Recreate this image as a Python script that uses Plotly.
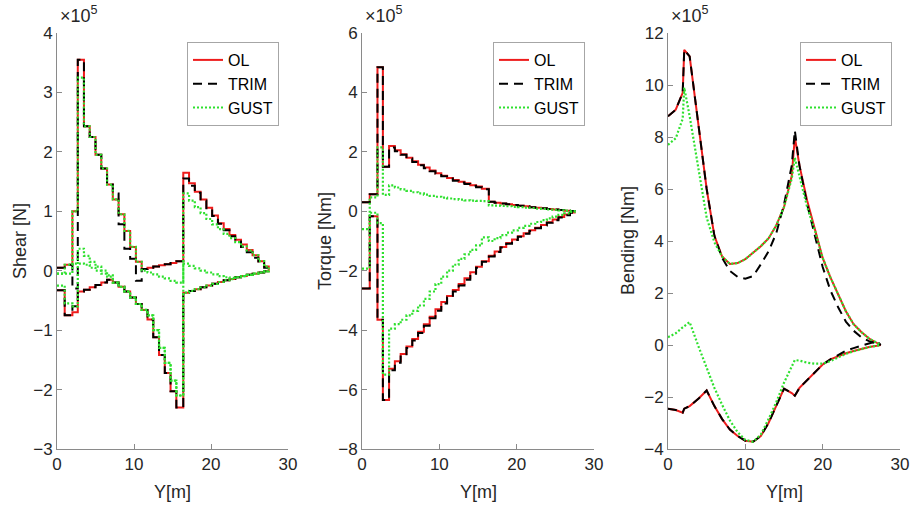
import plotly.graph_objects as go

# ---------------- data (loads in units of 1e5) ----------------
# spanwise stations (left edge of each strip, last = tip) for shear/torque
STATION_Y = [0, 1.0, 2.0, 2.7, 3.5, 4.25, 5.0, 5.75, 6.5, 7.25, 8.0, 8.75, 9.5, 10.25,
             11.0, 11.75, 12.5, 13.25, 14.0, 14.75, 15.5, 16.4, 17.15, 17.9, 18.65,
             19.4, 20.15, 20.9, 21.65, 22.4, 23.15, 23.9, 24.65, 25.4, 26.15, 26.9, 27.5]

SHEAR_OL_MAX = [0.05, 0.1, 1.0, 3.55, 2.43, 2.25, 1.95, 1.72, 1.45, 1.2, 0.95, 0.67, 0.4, 0.15,
                0.03, 0.05, 0.07, 0.09, 0.11, 0.13, 0.16, 1.65, 1.47, 1.33, 1.2, 1.06, 0.93,
                0.8, 0.7, 0.6, 0.52, 0.44, 0.35, 0.26, 0.16, 0.07, 0.0]
SHEAR_OL_MIN = [-0.33, -0.75, -0.7, -0.35, -0.32, -0.28, -0.24, -0.2, -0.15, -0.2, -0.27, -0.35,
                -0.45, -0.56, -0.66, -0.82, -1.12, -1.42, -1.72, -2.03, -2.3, -0.37, -0.34,
                -0.31, -0.28, -0.25, -0.22, -0.19, -0.16, -0.14, -0.11, -0.09, -0.07, -0.05,
                -0.03, -0.01, 0.0]
SHEAR_TRIM_MAX = [0.05, 0.1, -0.3, 3.55, 2.43, 2.25, 1.95, 1.72, 1.45, 1.3, 0.78, 0.37, 0.2,
                  -0.17, 0.03, 0.05, 0.07, 0.09, 0.11, 0.13, 0.16, 1.55, 1.43, 1.31, 1.18, 1.05,
                  0.92, 0.79, 0.68, 0.58, 0.49, 0.4, 0.31, 0.22, 0.13, 0.05, 0.0]
SHEAR_TRIM_MIN = [-0.33, -0.75, -0.6, -0.35, -0.32, -0.28, -0.24, -0.2, -0.15, -0.2, -0.27,
                  -0.35, -0.45, -0.56, -0.66, -0.82, -1.12, -1.42, -1.72, -2.03, -2.3, -0.37,
                  -0.34, -0.31, -0.28, -0.25, -0.22, -0.19, -0.16, -0.14, -0.11, -0.09, -0.07,
                  -0.05, -0.03, -0.01, 0.0]
SHEAR_GUST_A = [-0.05, 0.1, 1.0, 3.25, 2.43, 2.25, 1.95, 1.72, 1.45, 1.2, 0.95, 0.67, 0.4, 0.15,
                0.0, -0.03, -0.06, -0.1, -0.13, -0.17, -0.2, 1.3, 1.18, 1.07, 0.97, 0.87, 0.78,
                0.7, 0.62, 0.55, 0.48, 0.41, 0.34, 0.26, 0.16, 0.07, 0.0]
SHEAR_GUST_B = [-0.25, -0.55, -0.6, 0.37, 0.25, 0.15, 0.07, 0.0, -0.08, -0.2, -0.27, -0.35,
                -0.45, -0.56, -0.66, -0.75, -1.0, -1.3, -1.55, -1.85, -2.1, -0.37, -0.34,
                -0.31, -0.28, -0.25, -0.22, -0.19, -0.16, -0.14, -0.11, -0.09, -0.07, -0.05,
                -0.03, -0.01, 0.0]
SHEAR_GUST_C = [-0.05, -0.05, 0.12, 0.12, 0.1, 0.05, 0.0, -0.05, -0.1, -0.2, -0.27, -0.35,
                -0.45, -0.56, -0.66, -0.75, -1.0, -1.3, -1.55, -1.85, -2.1, 0.12, 0.08, 0.04,
                0.0, -0.03, -0.06, -0.09, -0.11, -0.12, -0.11, -0.09, -0.07, -0.05, -0.03,
                -0.01, 0.0]

TORQUE_OL_MAX = [0.3, 0.57, 4.85, 1.5, 2.2, 2.05, 1.92, 1.8, 1.68, 1.57, 1.47, 1.37, 1.28, 1.2,
                 1.12, 1.05, 0.99, 0.94, 0.88, 0.83, 0.76, 0.32, 0.29, 0.26, 0.24, 0.21, 0.19,
                 0.17, 0.14, 0.12, 0.1, 0.08, 0.06, 0.04, 0.02, 0.01, 0.0]
TORQUE_OL_MIN = [-2.6, -0.17, -3.65, -6.35, -5.3, -5.05, -4.8, -4.55, -4.3, -4.05, -3.8, -3.55,
                 -3.3, -3.05, -2.85, -2.65, -2.45, -2.25, -2.05, -1.87, -1.68, -1.5, -1.35,
                 -1.2, -1.07, -0.95, -0.84, -0.74, -0.64, -0.55, -0.46, -0.37, -0.28, -0.19,
                 -0.11, -0.04, 0.0]
TORQUE_TRIM_MAX = [0.3, 0.57, 4.85, 1.5, 2.15, 2.02, 1.9, 1.78, 1.66, 1.55, 1.45, 1.35, 1.26,
                   1.18, 1.1, 1.03, 0.97, 0.92, 0.86, 0.81, 0.74, 0.32, 0.29, 0.26, 0.24, 0.21,
                   0.19, 0.17, 0.14, 0.12, 0.1, 0.08, 0.06, 0.04, 0.02, 0.01, 0.0]
TORQUE_TRIM_MIN = [-2.6, -0.17, -3.65, -6.35, -5.35, -5.1, -4.85, -4.6, -4.35, -4.1, -3.85,
                   -3.6, -3.35, -3.1, -2.9, -2.7, -2.5, -2.3, -2.1, -1.9, -1.7, -1.52, -1.37,
                   -1.22, -1.09, -0.97, -0.86, -0.76, -0.66, -0.57, -0.48, -0.39, -0.3, -0.21,
                   -0.13, -0.05, 0.0]
TORQUE_GUST_A = [-0.6, 0.47, 2.15, 0.55, 0.87, 0.8, 0.74, 0.69, 0.64, 0.6, 0.56, 0.52, 0.49,
                 0.46, 0.43, 0.41, 0.39, 0.37, 0.36, 0.35, 0.34, 0.2, 0.19, 0.18, 0.17, 0.15,
                 0.14, 0.12, 0.11, 0.09, 0.08, 0.06, 0.05, 0.03, 0.02, 0.01, 0.0]
TORQUE_GUST_B = [-1.93, -0.05, -0.4, -5.5, -3.95, -3.8, -3.65, -3.5, -3.35, -3.17, -2.95, -2.7,
                 -2.45, -2.2, -2.0, -1.8, -1.6, -1.45, -1.3, -1.15, -0.88, -1.0, -0.9, -0.8,
                 -0.72, -0.64, -0.56, -0.49, -0.42, -0.36, -0.3, -0.24, -0.18, -0.12, -0.07,
                 -0.02, 0.0]

# spanwise points for bending moment
BEND_Y = [0, 1, 1.9, 2.1, 2.8, 4, 5, 6, 7, 8, 9, 10, 11, 12, 13, 14, 15, 16, 16.4, 17, 18,
          19, 20, 21, 22, 23, 24, 25, 26, 27, 27.5]
BEND_OL_MAX = [8.8, 9.05, 9.7, 11.35, 11.1, 8.4, 6.0, 4.2, 3.4, 3.12, 3.15, 3.3, 3.55, 3.8,
               4.1, 4.6, 5.3, 6.5, 8.0, 6.9, 5.55, 4.45, 3.35, 2.6, 1.95, 1.3, 0.8, 0.5, 0.25,
               0.1, 0.0]
BEND_OL_MIN = [-2.45, -2.5, -2.6, -2.45, -2.35, -2.05, -1.75, -2.35, -2.85, -3.25, -3.5, -3.68,
               -3.72, -3.5, -3.0, -2.35, -1.68, -1.85, -1.95, -1.65, -1.35, -1.05, -0.75,
               -0.55, -0.42, -0.32, -0.23, -0.15, -0.08, -0.03, 0.0]
BEND_TRIM_MAX = [8.8, 9.05, 9.7, 11.35, 11.1, 8.4, 6.0, 4.2, 3.35, 2.85, 2.62, 2.55, 2.65, 3.1,
                 3.6, 4.3, 5.4, 6.9, 8.25, 6.9, 5.4, 4.2, 3.0, 2.1, 1.45, 0.9, 0.55, 0.3, 0.15,
                 0.06, 0.0]
BEND_TRIM_MIN = [-2.45, -2.5, -2.6, -2.45, -2.35, -2.05, -1.75, -2.35, -2.85, -3.25, -3.5,
                 -3.68, -3.72, -3.5, -3.0, -2.35, -1.68, -1.85, -1.95, -1.65, -1.35, -1.05,
                 -0.75, -0.55, -0.38, -0.22, -0.12, -0.02, 0.08, 0.15, 0.0]
BEND_GUST_MAX = [7.7, 7.95, 8.7, 9.9, 8.8, 6.6, 4.9, 3.95, 3.4, 3.12, 3.15, 3.3, 3.55, 3.8,
                 4.1, 4.6, 5.3, 6.4, 7.2, 6.5, 5.3, 4.4, 3.35, 2.6, 1.95, 1.3, 0.8, 0.5, 0.25,
                 0.1, 0.0]
BEND_GUST_MIN = [0.3, 0.45, 0.68, 0.72, 0.88, -0.1, -0.9, -1.65, -2.3, -2.9, -3.35, -3.65,
                 -3.72, -3.45, -2.85, -2.2, -1.45, -0.8, -0.58, -0.6, -0.68, -0.72, -0.72,
                 -0.62, -0.47, -0.34, -0.24, -0.15, -0.08, -0.03, 0.0]

Y_TITLES = ["Shear [N]", "Torque [Nm]", "Bending [Nm]"]
X_TITLE = "Y[m]"
Y_RANGES = [[-3, 4], [-8, 6], [-4, 12]]
Y_DTICKS = [1, 2, 2]
X_TICKS = [0, 10, 20, 30]
SCALE_LABEL = "×10<sup>5</sup>"

# ---------------- style ----------------
W, H = 912, 506
FONT = "Liberation Sans, Arial, Helvetica, sans-serif"
TXT = "#262626"
AXC = "#8a8a8a"
RED = "#ee1c1c"
GREEN = "#2ee02e"
# positions in page pixels
X_PX = [(57, 288), (362, 594), (668, 900)]
Y_PX = (33, 449)
LEG_RIGHT = [279, 585, 892]
LEG_TOP = 42
YTITLE_X = [20, 325, 628]
XTITLE_Y = 492


def px_x(p):
    return p / W


def px_y(p):
    return 1 - p / H


STYLE = {
    "OL": dict(color=RED, width=2, dash="solid"),
    "TRIM": dict(color="black", width=2, dash="9px,6px"),
    "GUST": dict(color=GREEN, width=2.2, dash="2px,2px"),
}

panels = [
    dict(x=STATION_Y, shape="hv",
         series=[("OL", [SHEAR_OL_MAX, SHEAR_OL_MIN]),
                 ("TRIM", [SHEAR_TRIM_MAX, SHEAR_TRIM_MIN]),
                 ("GUST", [SHEAR_GUST_A, SHEAR_GUST_B, SHEAR_GUST_C])]),
    dict(x=STATION_Y, shape="hv",
         series=[("OL", [TORQUE_OL_MAX, TORQUE_OL_MIN]),
                 ("TRIM", [TORQUE_TRIM_MAX, TORQUE_TRIM_MIN]),
                 ("GUST", [TORQUE_GUST_A, TORQUE_GUST_B])]),
    dict(x=BEND_Y, shape="linear",
         series=[("OL", [BEND_OL_MAX, BEND_OL_MIN]),
                 ("TRIM", [BEND_TRIM_MAX, BEND_TRIM_MIN]),
                 ("GUST", [BEND_GUST_MAX, BEND_GUST_MIN])]),
]

fig = go.Figure()
layout = dict(
    width=W, height=H, margin=dict(l=0, r=0, t=0, b=0),
    paper_bgcolor="white", plot_bgcolor="white",
    font=dict(family=FONT, color=TXT, size=16),
    annotations=[],
)

ydom = [px_y(Y_PX[1]), px_y(Y_PX[0])]
for i, p in enumerate(panels):
    sfx = "" if i == 0 else str(i + 1)
    leg = "legend" if i == 0 else "legend%d" % (i + 1)
    for name, curves in p["series"]:
        st = STYLE[name]
        for k, yv in enumerate(curves):
            fig.add_trace(go.Scatter(
                x=p["x"], y=yv, mode="lines", name=name,
                line=dict(color=st["color"], width=st["width"], dash=st["dash"],
                          shape=p["shape"]),
                xaxis="x" + sfx, yaxis="y" + sfx,
                legend=leg, legendgroup=name + sfx, showlegend=(k == 0),
                hoverinfo="skip",
            ))
    axcommon = dict(showline=True, linecolor=AXC, linewidth=1, mirror=False,
                    ticks="inside", ticklen=5, tickcolor=AXC, tickwidth=1,
                    showgrid=False, zeroline=False, automargin=False,
                    tickfont=dict(size=17, color=TXT, family=FONT))
    layout["xaxis" + sfx] = dict(
        domain=[px_x(X_PX[i][0]), px_x(X_PX[i][1])], range=[0, 30],
        tickmode="array", tickvals=X_TICKS, anchor="y" + sfx, **axcommon)
    layout["yaxis" + sfx] = dict(
        domain=ydom, range=Y_RANGES[i], dtick=Y_DTICKS[i], tick0=0,
        anchor="x" + sfx, **axcommon)
    layout[leg] = dict(
        x=px_x(LEG_RIGHT[i]), xanchor="right", y=px_y(LEG_TOP), yanchor="top",
        bgcolor="white", bordercolor="#a6a6a6", borderwidth=1,
        font=dict(size=16, color="black", family=FONT),
        tracegroupgap=0, itemwidth=30,
    )
    # scale factor label
    layout["annotations"].append(dict(
        text=SCALE_LABEL, xref="paper", yref="paper",
        x=px_x(X_PX[i][0] + 1), y=px_y(28), xanchor="left", yanchor="bottom",
        showarrow=False, font=dict(size=18, color=TXT, family=FONT)))
    # y title
    layout["annotations"].append(dict(
        text=Y_TITLES[i], xref="paper", yref="paper",
        x=px_x(YTITLE_X[i]), y=px_y(sum(Y_PX) / 2), xanchor="center", yanchor="middle",
        textangle=-90, showarrow=False, font=dict(size=18, color=TXT, family=FONT)))
    # x title
    layout["annotations"].append(dict(
        text=X_TITLE, xref="paper", yref="paper",
        x=px_x(sum(X_PX[i]) / 2), y=px_y(XTITLE_Y), xanchor="center", yanchor="middle",
        showarrow=False, font=dict(size=18, color=TXT, family=FONT)))

fig.update_layout(**layout)
fig.write_html("out.html",
               config={"displayModeBar": False},
               post_script="document.body.style.margin='0px';"
                           "document.body.style.overflow='hidden';")
